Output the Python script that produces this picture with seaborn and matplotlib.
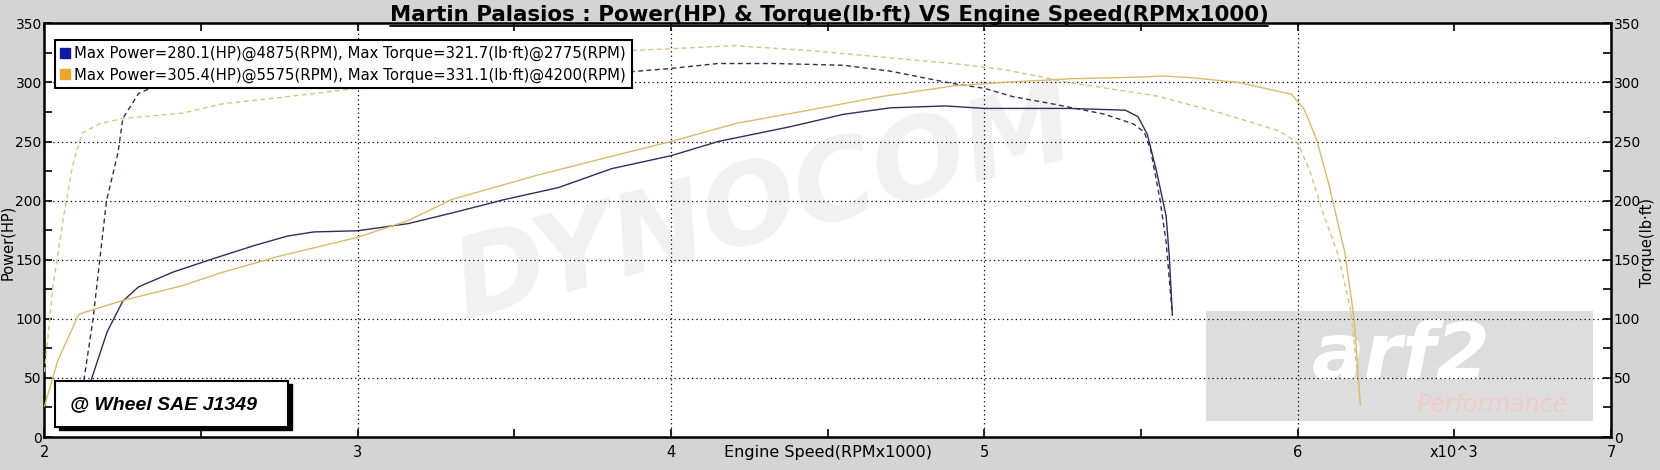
import numpy as np
import pandas as pd
import matplotlib
matplotlib.use("Agg")
import matplotlib.pyplot as plt
from matplotlib.lines import Line2D
from matplotlib.patches import Rectangle
import seaborn as sns

# run 1 (blue)
blue_power_rpm = [2.12, 2.15, 2.20, 2.25, 2.30, 2.41, 2.54, 2.67, 2.775, 2.86, 3.00, 3.16, 3.30, 3.47,
                  3.64, 3.81, 4.00, 4.15, 4.38, 4.55, 4.70, 4.875, 5.00, 5.27, 5.45, 5.49, 5.52, 5.55,
                  5.58, 5.59, 5.60]
blue_power_hp = [25, 49, 89, 115, 127, 139.5, 151, 162, 170, 173.5, 174.5, 180.5, 189.5, 201,
                 211, 227, 238, 250, 262.5, 273, 278.5, 280.1, 278, 278, 276.5, 271, 256, 224,
                 187, 153, 103]
blue_torque_rpm = [2.11, 2.155, 2.198, 2.235, 2.25, 2.30, 2.35, 2.45, 2.60, 2.775, 3.00, 3.30, 3.60,
                   3.87, 4.00, 4.15, 4.33, 4.55, 4.70, 4.90, 5.00, 5.09, 5.22, 5.38, 5.475, 5.51,
                   5.53, 5.56, 5.58, 5.60]
blue_torque_lbft = [20, 100, 200, 241, 269.5, 290.5, 296.5, 305, 315, 321.7, 318, 311, 307,
                    309, 311.8, 316, 316, 314.5, 309.5, 299, 295, 288, 281.7, 273.3, 265, 258,
                    243.5, 201.5, 165, 103]

# run 2 (orange)
orange_power_rpm = [2.00, 2.043, 2.11, 2.25, 2.44, 2.57, 2.75, 3.00, 3.16, 3.30, 3.58, 3.81, 4.00,
                    4.21, 4.44, 4.67, 4.90, 5.06, 5.27, 5.49, 5.575, 5.66, 5.81, 5.98, 6.02, 6.06,
                    6.10, 6.15, 6.18, 6.20]
orange_power_hp = [26, 65, 104, 115.5, 128, 139.5, 153, 169, 183, 201, 222, 237.5, 250,
                   265.5, 276.5, 288, 297, 300, 303, 304.5, 305.4, 304, 300, 290, 277.5, 252,
                   213, 156.5, 100, 27]
orange_torque_rpm = [2.00, 2.027, 2.06, 2.09, 2.12, 2.176, 2.25, 2.44, 2.57, 2.73, 3.00, 3.30, 3.60,
                     3.87, 4.00, 4.20, 4.44, 4.67, 4.90, 5.06, 5.27, 5.55, 5.75, 5.94, 6.00, 6.04,
                     6.08, 6.13, 6.17, 6.20]
orange_torque_lbft = [55, 127.5, 185, 230, 257, 265, 269.5, 274, 282, 286.5, 295, 310, 322,
                      327, 328.5, 331.1, 327, 321.5, 316, 311, 300, 288.5, 274.5, 259, 249, 224,
                      190, 153.5, 106, 27]

legend_labels = [
    "Max Power=280.1(HP)@4875(RPM), Max Torque=321.7(lb·ft)@2775(RPM)",
    "Max Power=305.4(HP)@5575(RPM), Max Torque=331.1(lb·ft)@4200(RPM)",
]
x_ticks = [2, 3, 4, 5, 6, 7]
y_ticks = [0, 50, 100, 150, 200, 250, 300, 350]

BLUE = "#2e2e5c"
ORANGE = "#d8bb6a"
BG = "#d4d4d4"

sns.set_style("ticks")
plt.rcParams["font.family"] = ["DejaVu Sans"]
plt.rcParams["text.color"] = "black"
plt.rcParams["axes.labelcolor"] = "black"
plt.rcParams["xtick.color"] = "black"
plt.rcParams["ytick.color"] = "black"

fig = plt.figure(figsize=(16.6, 4.7), dpi=100, facecolor=BG)
ax = fig.add_axes([0.0268, 0.0702, 0.9437, 0.8802])
ax.set_facecolor("white")

series = [
    (blue_power_rpm, blue_power_hp, BLUE, "-"),
    (blue_torque_rpm, blue_torque_lbft, BLUE, (0, (3.5, 2.5))),
    (orange_power_rpm, orange_power_hp, ORANGE, "-"),
    (orange_torque_rpm, orange_torque_lbft, "#dcc27f", (0, (3.5, 2.5))),
]
for xs, ys, col, ls in series:
    sns.lineplot(x=xs, y=ys, ax=ax, color=col, linestyle=ls, linewidth=1.0,
                 estimator=None, sort=False, legend=False, zorder=3)

ax.set_xlim(2, 7)
ax.set_ylim(0, 350)
ax.set_xticks(x_ticks)
ax.set_xticks(np.arange(2.5, 7, 1.0), minor=True)
ax.set_yticks(y_ticks)
ax.set_yticks(np.arange(25, 350, 50), minor=True)
ax.tick_params(which="both", direction="in", top=True, right=False, length=6, width=1.2,
               labelsize=10.5, colors="black")
ax.tick_params(axis="x", pad=6)
ax.tick_params(axis="y", labelsize=10, pad=2)
ax.grid(True, which="major", color="black", linestyle=(0, (1, 2.5)), linewidth=0.9)
ax.set_axisbelow("line")
for sp in ax.spines.values():
    sp.set_color("black")
    sp.set_linewidth(1.8)

ax.set_xlabel("Engine Speed(RPMx1000)", fontsize=11.5)
ax.xaxis.set_label_coords(0.5, -0.037)
ax.xaxis.label.set_va("center")
ax.set_ylabel("Power(HP)", fontsize=10.5)
ax.yaxis.set_label_coords(-0.0233, 0.47)
ax.yaxis.label.set_va("center")
ax.annotate("x10^3", xy=(6.5, -0.037), xycoords=("data", "axes fraction"),
            ha="center", va="center", fontsize=10.5)

# right axis for torque scale
ax2 = ax.twinx()
ax2.set_ylim(0, 350)
ax2.set_yticks(y_ticks)
ax2.set_yticks(np.arange(25, 350, 50), minor=True)
ax2.tick_params(which="both", direction="in", length=6, width=1.2, labelsize=10, pad=2,
                colors="black")
ax2.set_ylabel("Torque(lb·ft)", fontsize=10.5)
ax2.yaxis.set_label_coords(1.0233, 0.47)
ax2.yaxis.label.set_va("center")
ax2.grid(False)
for sp in ax2.spines.values():
    sp.set_visible(False)

# watermarks
ax.text(4.3, 195, "DYNOCOM", fontsize=80, fontweight="bold", style="italic",
        color="#f1f1f1", rotation=15, ha="center", va="center", zorder=1)
ax.add_patch(Rectangle((5.706, 13.5), 1.236, 93.5, facecolor="#dddddd",
                       edgecolor="none", zorder=1))
ax.text(6.33, 68, "arf2", fontsize=56, fontweight="bold", style="italic",
        color="white", ha="center", va="center", zorder=1.2)
ax.text(6.62, 27, "Performance", fontsize=17, style="italic", color="#f2c8c8",
        ha="center", va="center", zorder=1.2)

# legend
handles = [
    Line2D([], [], marker="s", linestyle="none", markersize=7, color="#0d1aa6"),
    Line2D([], [], marker="s", linestyle="none", markersize=7, color="#eca62a"),
]
leg = ax.legend(handles, legend_labels, loc="upper left", bbox_to_anchor=(0.0067, 0.959),
                borderaxespad=0, fontsize=10.75, frameon=True, fancybox=False, framealpha=1,
                edgecolor="black", labelspacing=0.42, borderpad=0.38, handlelength=0.6,
                handletextpad=0.3)
leg.get_frame().set_linewidth(1.5)
leg.set_zorder(6)

# "@ Wheel" box with shadow
ax.add_patch(Rectangle((0.0090, 0.016), 0.149, 0.111, transform=ax.transAxes,
                       facecolor="black", edgecolor="black", zorder=7, clip_on=False))
ax.add_patch(Rectangle((0.0067, 0.024), 0.149, 0.111, transform=ax.transAxes,
                       facecolor="white", edgecolor="black", linewidth=1.5, zorder=7.5,
                       clip_on=False))
ax.text(0.016, 0.079, "@ Wheel SAE J1349", transform=ax.transAxes, fontsize=14,
        fontweight="bold", style="italic", family=["Liberation Sans", "DejaVu Sans"],
        ha="left", va="center", zorder=8)

# title with underline
title = fig.text(0.4994, 0.955, "Martin Palasios : Power(HP) & Torque(lb·ft) VS Engine Speed(RPMx1000)",
                 ha="center", va="baseline", fontsize=15.4, fontweight="bold")
renderer = fig.canvas.get_renderer()
bb = title.get_window_extent(renderer)
y_ul = (bb.y0 - 1) / fig.bbox.height
fig.add_artist(Line2D([bb.x0 / fig.bbox.width, bb.x1 / fig.bbox.width], [y_ul, y_ul],
                      color="black", linewidth=1.3))

fig.savefig("out.png", dpi=100, facecolor=BG)
